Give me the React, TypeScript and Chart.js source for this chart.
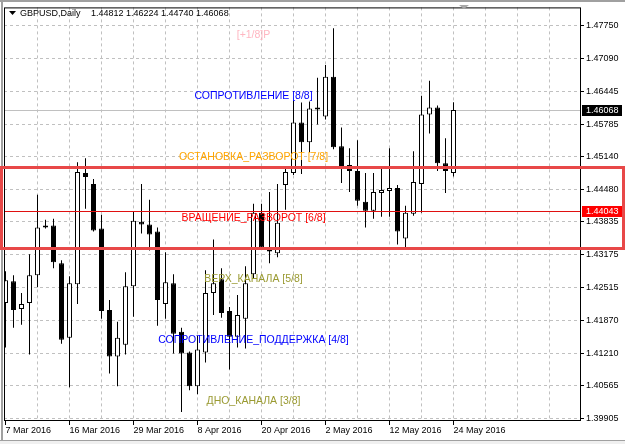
import React, { useEffect, useRef } from 'react';
import { Chart, registerables } from 'chart.js';

Chart.register(...registerables);

// ---- data ----
const dateLabels = ['7 Mar 2016', '16 Mar 2016', '29 Mar 2016', '8 Apr 2016', '20 Apr 2016', '2 May 2016', '12 May 2016', '24 May 2016'];
const dateLabelBars = [0, 8, 16, 24, 32, 40, 48, 56];

const opens = [
  1.42211, 1.42647, 1.42092, 1.42211, 1.42766, 1.43718, 1.43758, 1.43004, 1.41517, 1.42588,
  1.44809, 1.44591, 1.43699, 1.42072, 1.41140, 1.41378, 1.42548, 1.43837, 1.43778, 1.43639,
  1.42191, 1.42608, 1.41636, 1.41220, 1.40545, 1.41220, 1.42409, 1.42687, 1.42053, 1.41537,
  1.41894, 1.42786, 1.44016, 1.43282, 1.43203, 1.44571, 1.44809, 1.45820, 1.45424, 1.46118,
  1.45939, 1.46733, 1.45344, 1.44968, 1.44849, 1.44234, 1.44055, 1.44412, 1.44452, 1.44512,
  1.43500, 1.43996, 1.44591, 1.45979, 1.46118, 1.45007, 1.44812,
];
const highs = [
  1.42846, 1.42766, 1.42409, 1.43183, 1.44373, 1.43877, 1.43897, 1.43064, 1.42747, 1.45027,
  1.45107, 1.44690, 1.43976, 1.42271, 1.41834, 1.42826, 1.44036, 1.44591, 1.44274, 1.43718,
  1.43223, 1.42786, 1.41715, 1.41239, 1.41557, 1.42866, 1.43480, 1.42905, 1.42132, 1.42370,
  1.42945, 1.44194, 1.44194, 1.44432, 1.44591, 1.44948, 1.46257, 1.46217, 1.46237, 1.46713,
  1.46971, 1.47704, 1.45721, 1.45305, 1.45463, 1.44809, 1.44809, 1.44888, 1.45305, 1.44571,
  1.44155, 1.45245, 1.46356, 1.46653, 1.46158, 1.45503, 1.46224,
];
const lows = [
  1.41319, 1.41715, 1.41775, 1.41180, 1.42528, 1.43699, 1.42905, 1.41398, 1.40526, 1.42191,
  1.44095, 1.43639, 1.41894, 1.40803, 1.40545, 1.41180, 1.41934, 1.43599, 1.43262, 1.41755,
  1.41894, 1.41200, 1.40030, 1.40466, 1.40387, 1.41021, 1.41973, 1.41914, 1.40883, 1.41319,
  1.41299, 1.42707, 1.43302, 1.43004, 1.43123, 1.44075, 1.44769, 1.44789, 1.45225, 1.45781,
  1.45880, 1.45285, 1.44611, 1.44432, 1.44155, 1.43718, 1.43897, 1.43936, 1.43936, 1.43381,
  1.43322, 1.43956, 1.44016, 1.45602, 1.44849, 1.44412, 1.44740,
];
const closes = [
  1.42667, 1.42072, 1.42191, 1.42766, 1.43718, 1.43758, 1.43024, 1.41477, 1.42608, 1.44829,
  1.44730, 1.43659, 1.42053, 1.41140, 1.41517, 1.42548, 1.43857, 1.43778, 1.43580, 1.42271,
  1.42628, 1.41596, 1.41200, 1.40545, 1.41279, 1.42409, 1.42608, 1.42013, 1.41537, 1.41973,
  1.42608, 1.44016, 1.43322, 1.43242, 1.43817, 1.44829, 1.45820, 1.45424, 1.46098, 1.46078,
  1.46733, 1.45325, 1.44948, 1.44849, 1.44254, 1.44055, 1.44432, 1.44472, 1.44512, 1.43639,
  1.44016, 1.44631, 1.45979, 1.46118, 1.45007, 1.44849, 1.46068,
];

const priceTicks = [1.4775, 1.4709, 1.46445, 1.45785, 1.4514, 1.4448, 1.43835, 1.43175, 1.42515, 1.4187, 1.4121, 1.40565, 1.39905];
const gridBars = [0, 4, 8, 12, 16, 20, 24, 28, 32, 36, 40, 44, 48, 52, 56, 60, 64, 68];

const levelTexts = ['[+1/8]P', 'СОПРОТИВЛЕНИЕ [8/8]', 'ОСТАНОВКА_РАЗВОРОТ [7/8]', 'ВРАЩЕНИЕ_РАЗВОРОТ [6/8]', 'ВЕРХ_КАНАЛА [5/8]', 'СОПРОТИВЛЕНИЕ_ПОДДЕРЖКА [4/8]', 'ДНО_КАНАЛА [3/8]'];
const levelPrices = [1.47705, 1.46484, 1.45264, 1.44043, 1.42822, 1.41602, 1.40381];
const levelColors = ['#ffb6c1', '#0000ff', '#ffa500', '#ff0000', '#9a9a32', '#0000ff', '#9a9a32'];
const levelTextBar = 31;

const symbolTitle = 'GBPUSD,Daily';
const titleValues = '1.44812 1.46224 1.44740 1.46068';
const bidPrice = 1.46068;
const pivotPrice = 1.44043;
const zoneTop = 1.44928;
const zoneBottom = 1.43302;

const FONT = "'Liberation Sans', Arial, sans-serif";

const overlay = {
  id: 'overlay',
  beforeDatasetsDraw(chart: any) {
    const { ctx, chartArea: a, scales } = chart;
    const py = Math.round(scales.y.getPixelForValue(bidPrice)) + 0.5;
    ctx.save();
    ctx.strokeStyle = '#c0c0c0';
    ctx.lineWidth = 1;
    ctx.beginPath();
    ctx.moveTo(a.left, py);
    ctx.lineTo(a.right, py);
    ctx.stroke();
    ctx.restore();
  },
  afterDraw(chart: any) {
    const { ctx, chartArea: a, scales } = chart;
    const y = scales.y;
    const x = scales.x;
    ctx.save();

    // pivot red line
    const pp = Math.round(y.getPixelForValue(pivotPrice)) + 0.5;
    ctx.strokeStyle = '#e01010';
    ctx.lineWidth = 1;
    ctx.beginPath();
    ctx.moveTo(a.left, pp);
    ctx.lineTo(a.right, pp);
    ctx.stroke();

    // level texts
    ctx.font = `10.5px ${FONT}`;
    ctx.textAlign = 'center';
    ctx.textBaseline = 'middle';
    const tx = x.getPixelForValue(levelTextBar);
    levelTexts.forEach((t, i) => {
      ctx.fillStyle = levelColors[i];
      ctx.fillText(t, tx, y.getPixelForValue(levelPrices[i]) + 7);
    });

    // frame
    ctx.strokeStyle = '#000';
    ctx.lineWidth = 1;
    ctx.strokeRect(a.left + 0.5, a.top + 0.5, a.right - a.left, a.bottom - a.top - 1);

    // price boxes
    ctx.font = `9px ${FONT}`;
    ctx.textAlign = 'left';
    const box = (price: number, bg: string) => {
      const py = Math.round(y.getPixelForValue(price));
      ctx.fillStyle = bg;
      ctx.fillRect(a.right + 2, py - 5, 40, 11);
      ctx.fillStyle = '#fff';
      ctx.fillText(price.toFixed(5), a.right + 6, py + 0.5);
    };
    box(bidPrice, '#000');
    box(pivotPrice, '#ff0000');

    // header
    ctx.fillStyle = '#000';
    ctx.beginPath();
    ctx.moveTo(9, 11);
    ctx.lineTo(16, 11);
    ctx.lineTo(12.5, 15);
    ctx.closePath();
    ctx.fill();
    ctx.textBaseline = 'middle';
    ctx.fillText(symbolTitle, 20, 13.5);
    ctx.fillText(titleValues, 91, 13.5);

    // shift marker
    ctx.fillStyle = '#a8a8a8';
    ctx.beginPath();
    ctx.moveTo(459, 5);
    ctx.lineTo(469, 5);
    ctx.lineTo(464, 9);
    ctx.closePath();
    ctx.fill();

    // window border
    ctx.fillStyle = '#a0a0a0';
    ctx.fillRect(0, 0, 625, 2);
    ctx.fillRect(1, 0, 2, 441);
    ctx.fillStyle = '#f0f0f0';
    ctx.fillRect(0, 441, 625, 3);
    ctx.fillStyle = '#a0a0a0';
    ctx.fillRect(0, 440, 625, 1);

    // zone rectangle
    const zt = Math.round(y.getPixelForValue(zoneTop));
    const zb = Math.round(y.getPixelForValue(zoneBottom));
    ctx.strokeStyle = '#e84848';
    ctx.lineWidth = 3;
    ctx.strokeRect(1.5, zt + 0.5, 622, zb - zt);

    ctx.restore();
  },
};

export default function App() {
  const ref = useRef<HTMLCanvasElement>(null);
  useEffect(() => {
    const wickData = highs.map((h, i) => ({ x: i, y: [lows[i], h] }));
    const bodyData = opens.map((o, i) => ({ x: i, y: [o, closes[i]] }));
    const bodyColors = opens.map((o, i) => (closes[i] >= o ? '#ffffff' : '#000000'));
    const chart = new Chart(ref.current as HTMLCanvasElement, {
      type: 'bar',
      data: {
        datasets: [
          {
            data: wickData as any,
            backgroundColor: '#000',
            borderWidth: 0,
            barThickness: 1,
            grouped: false,
            inflateAmount: 0,
            order: 2,
          } as any,
          {
            data: bodyData as any,
            backgroundColor: bodyColors,
            borderColor: '#000',
            borderWidth: 1,
            borderSkipped: false,
            barThickness: 5,
            grouped: false,
            inflateAmount: 0,
            order: 1,
          } as any,
        ],
      },
      options: {
        responsive: false,
        animation: false,
        events: [],
        layout: { padding: { left: 4, top: 4, right: 0, bottom: 0 } },
        plugins: { legend: { display: false }, tooltip: { enabled: false } },
        scales: {
          x: {
            type: 'linear',
            offset: false,
            min: -0.1875,
            max: 71.8125,
            afterBuildTicks: (s: any) => {
              s.ticks = gridBars.map((v) => ({ value: v }));
            },
            afterFit: (s: any) => {
              s.height = 23;
            },
            border: { display: false, dash: [3, 3] },
            grid: {
              offset: false,
              color: (c: any) => (c.tick && c.tick.value === 0 ? 'rgba(0,0,0,0)' : '#c0c0c0'),
              tickColor: (c: any) => (c.tick && dateLabelBars.includes(c.tick.value) ? '#000' : 'rgba(0,0,0,0)'),
              tickLength: 4,
              tickBorderDash: [],
            },
            ticks: {
              autoSkip: false,
              maxRotation: 0,
              minRotation: 0,
              align: 'start',
              padding: 0,
              color: '#000',
              font: { family: FONT, size: 9 },
              callback: (v: any) => {
                const k = dateLabelBars.indexOf(Number(v));
                return k >= 0 ? dateLabels[k] : '';
              },
            },
          },
          y: {
            type: 'linear',
            position: 'right',
            min: 1.398515,
            max: 1.481208,
            afterBuildTicks: (s: any) => {
              s.ticks = priceTicks.map((v) => ({ value: v }));
            },
            afterFit: (s: any) => {
              s.width = 45;
            },
            border: { display: false, dash: [3, 3] },
            grid: {
              color: '#c0c0c0',
              tickColor: '#000',
              tickLength: 4,
              tickBorderDash: [],
            },
            ticks: {
              autoSkip: false,
              padding: 2,
              color: '#000',
              font: { family: FONT, size: 9 },
              callback: (v: any) => Number(v).toFixed(5),
            },
          },
        },
      } as any,
      plugins: [overlay],
    });
    return () => chart.destroy();
  }, []);
  return (
    <div style={{ position: 'fixed', left: 0, top: 0, width: 625, height: 444, background: '#fff' }}>
      <canvas ref={ref} width={625} height={444} style={{ display: 'block', width: 625, height: 444 }} />
    </div>
  );
}
